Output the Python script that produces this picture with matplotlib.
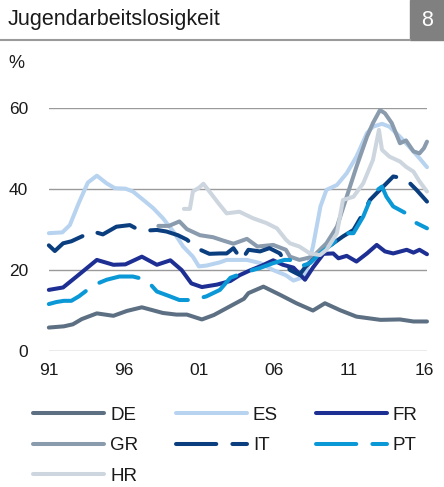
import matplotlib
matplotlib.use("Agg")
import matplotlib.pyplot as plt
from matplotlib.lines import Line2D
from matplotlib.patches import Rectangle

plt.rcParams['font.family'] = ['Liberation Sans', 'DejaVu Sans']

# ---- data (youth unemployment, %) ----
de_x = [1991.0, 1992.0, 1992.6, 1993.2, 1994.2, 1995.3, 1996.2, 1997.2, 1998.6, 1999.5, 2000.2, 2001.2,
        2002.0, 2003.0, 2004.0, 2004.3, 2005.3, 2006.4, 2007.5, 2008.6, 2009.4, 2010.4, 2011.5, 2013.1,
        2014.4, 2015.3, 2016.2]
de_y = [5.7, 6.0, 6.5, 7.8, 9.2, 8.6, 9.8, 10.7, 9.3, 8.9, 8.9, 7.7,
        8.8, 10.8, 12.8, 14.2, 15.8, 13.8, 11.7, 9.9, 11.7, 10.0, 8.4, 7.6,
        7.7, 7.2, 7.2]

es_x = [1991.0, 1991.9, 1992.4, 1993.0, 1993.6, 1994.2, 1994.85, 1995.4, 1996.1, 1996.6, 1997.3, 1997.95,
        1998.6, 1999.3, 1999.95, 2000.6, 2001.0, 2001.5, 2002.4, 2002.85, 2004.2, 2005.1, 2005.95, 2006.8,
        2007.3, 2007.85, 2008.2, 2008.6, 2009.1, 2009.5, 2010.2, 2010.85, 2011.5, 2012.2, 2012.6, 2013.2,
        2013.7, 2014.4, 2015.1, 2015.7, 2016.2]
es_y = [29.0, 29.2, 31.0, 36.5, 41.5, 43.2, 41.3, 40.1, 40.0, 39.3, 37.2, 35.2,
        32.7, 29.4, 25.7, 23.2, 20.8, 21.0, 21.8, 22.4, 22.4, 21.6, 19.9, 18.6,
        17.3, 18.0, 20.0, 25.7, 35.6, 39.7, 40.9, 43.8, 47.9, 53.7, 55.3, 56.0,
        55.3, 52.8, 50.0, 47.5, 45.3]

fr_x = [1991.0, 1991.95, 1992.85, 1994.2, 1995.3, 1996.1, 1997.2, 1998.2, 1999.1, 1999.85, 2000.5, 2001.2,
        2002.2, 2003.1, 2003.7, 2004.4, 2005.2, 2005.95, 2006.6, 2007.3, 2008.07, 2008.6, 2009.3, 2009.95,
        2010.3, 2010.85, 2011.5, 2012.2, 2012.85, 2013.4, 2013.95, 2014.85, 2015.3, 2015.7, 2016.2]
fr_y = [15.0, 15.6, 18.3, 22.4, 21.2, 21.3, 23.2, 21.2, 22.3, 19.9, 16.6, 15.7,
        16.3, 17.2, 18.6, 19.8, 21.0, 22.3, 21.2, 20.5, 17.5, 20.5, 23.9, 24.0,
        22.8, 23.4, 22.0, 24.0, 26.1, 24.5, 24.0, 24.9, 24.2, 24.9, 23.8]

gr_x = [1998.3, 1999.0, 1999.7, 2000.2, 2001.07, 2001.95, 2002.6, 2003.3, 2004.2, 2004.9, 2005.95, 2006.8,
        2007.07, 2007.7, 2008.6, 2009.5, 2010.2, 2010.85, 2011.5, 2012.2, 2012.6, 2013.07, 2013.4, 2013.85,
        2014.4, 2014.8, 2015.3, 2015.7, 2016.0, 2016.2]
gr_y = [30.8, 30.8, 31.9, 30.0, 28.5, 28.0, 27.2, 26.4, 27.6, 25.7, 26.1, 24.9,
        23.2, 22.4, 23.2, 26.5, 30.6, 38.0, 45.4, 52.8, 56.2, 59.4, 58.6, 56.2,
        51.2, 51.9, 49.2, 48.7, 50.0, 51.6]

it_x = [1991.0, 1991.4, 1991.95, 1992.5, 1993.2, 1993.95, 1994.6, 1995.5, 1996.4, 1996.8, 1997.3, 1998.2,
        1998.85, 1999.6, 2000.2, 2000.85, 2001.7, 2002.4, 2002.85, 2003.3, 2003.85, 2004.3, 2005.07, 2005.7,
        2006.4, 2007.07, 2007.7, 2008.1, 2009.07, 2009.95, 2010.6, 2011.3, 2011.95, 2012.4, 2012.85, 2013.5,
        2013.95, 2014.6, 2015.07, 2015.5, 2016.2]
it_y = [26.0, 24.6, 26.5, 27.0, 28.2, 29.4, 28.7, 30.6, 31.0, 30.2, 29.6, 29.8,
        29.4, 28.5, 27.4, 25.3, 23.9, 24.0, 24.0, 25.3, 22.4, 24.9, 24.5, 25.3,
        24.0, 19.9, 18.7, 20.7, 24.0, 26.5, 28.2, 29.8, 33.9, 37.2, 38.9, 41.3,
        43.0, 42.6, 41.3, 39.7, 36.8]

pt_x = [1991.0, 1991.5, 1992.0, 1992.5, 1993.0, 1994.0, 1994.85, 1995.7, 1996.6, 1997.5, 1998.2, 1999.07,
        1999.7, 2000.6, 2001.5, 2002.4, 2003.1, 2004.2, 2005.07, 2005.95, 2006.7, 2007.07, 2007.7, 2008.4,
        2009.07, 2009.95, 2010.6, 2011.3, 2011.95, 2012.6, 2013.2, 2013.5, 2013.95, 2014.4, 2014.8, 2015.5,
        2016.2]
pt_y = [11.5, 12.0, 12.3, 12.3, 13.4, 16.2, 17.5, 18.3, 18.3, 17.5, 14.6, 13.4,
        12.5, 12.5, 13.4, 15.0, 18.0, 19.5, 20.4, 21.6, 22.4, 22.4, 20.7, 21.6,
        24.0, 26.5, 29.0, 29.0, 33.1, 38.9, 40.5, 38.0, 35.6, 34.7, 33.9, 31.5,
        30.2]

hr_x = [2000.0, 2000.4, 2000.6, 2001.0, 2001.3, 2001.7, 2002.3, 2002.85, 2003.7, 2004.6, 2005.5, 2006.2,
        2006.8, 2007.07, 2007.7, 2008.4, 2009.07, 2009.5, 2010.2, 2010.6, 2011.3, 2011.95, 2012.6, 2013.0,
        2013.2, 2013.7, 2014.4, 2014.8, 2015.3, 2015.7, 2016.2]
hr_y = [35.0, 35.0, 39.3, 40.2, 41.2, 39.3, 36.4, 33.9, 34.3, 32.7, 31.5, 30.2,
        27.4, 26.5, 25.7, 24.0, 23.6, 24.9, 29.0, 37.2, 38.0, 41.3, 47.1, 54.5,
        49.6, 47.9, 46.7, 45.4, 44.2, 41.8, 39.3]

labels = ['DE', 'ES', 'FR', 'GR', 'IT', 'PT', 'HR']
xs = [de_x, es_x, fr_x, gr_x, it_x, pt_x, hr_x]
ys = [de_y, es_y, fr_y, gr_y, it_y, pt_y, hr_y]
colors = ['#5d7083', '#b8d3ef', '#1e2f94', '#8a9bae', '#0b3e7f', '#0b98d6', '#cdd6df']
dashed = [False, False, False, False, True, True, False]

xticks = [1991, 1996, 2001, 2006, 2011, 2016]
xticklabels = ['91', '96', '01', '06', '11', '16']
yticks = [0, 20, 40, 60]

fig = plt.figure(figsize=(4.44, 4.87), dpi=100)
ax = fig.add_axes([0.110, 0.280, 0.851, 0.499])

LW = 2.9
handles = {}
for lab, x, y, c, d in zip(labels, xs, ys, colors, dashed):
    ls = (0, (10, 4)) if d else '-'
    ln, = ax.plot(x, y, color=c, lw=LW, ls=ls, solid_capstyle='round',
                  dash_capstyle='round', solid_joinstyle='round', clip_on=False, label=lab)
    handles[lab] = ln

ax.set_xlim(1991, 2016.18)
ax.set_ylim(0, 60)
ax.set_xticks(xticks)
ax.set_xticklabels(xticklabels)
ax.set_yticks(yticks)
ax.tick_params(axis='both', length=0, labelsize=12.5, colors='#1a1a1a')
ax.tick_params(axis='y', pad=15)
ax.tick_params(axis='x', pad=9)
for s in ax.spines.values():
    s.set_visible(False)
ax.grid(axis='y', color='#9a9a9a', lw=1.0)
ax.set_axisbelow(True)

order = ['DE', 'GR', 'HR', 'ES', 'IT', 'FR', 'PT']
leg = fig.legend([handles[k] for k in order], order, ncol=3, loc='upper left',
                 bbox_to_anchor=(0.074, 0.165), frameon=False, fontsize=13.5,
                 handlelength=3.8, handletextpad=0.32, columnspacing=2.0,
                 labelspacing=0.72, borderaxespad=0, borderpad=0)
for t in leg.get_texts():
    t.set_color('#1a1a1a')

# header
fig.text(8 / 444, 1 - 19 / 487, 'Jugendarbeitslosigkeit', fontsize=15.5, va='center', ha='left',
         color='#1a1a1a')
fig.add_artist(Line2D([0, 410 / 444], [1 - 39.5 / 487, 1 - 39.5 / 487], color='#9a9a9a', lw=1.5,
                      transform=fig.transFigure))
fig.add_artist(Rectangle((410 / 444, 1 - 40 / 487), 34 / 444, 40 / 487, color='#808080',
                         transform=fig.transFigure))
fig.text(427 / 444, 1 - 20 / 487, '8', fontsize=15.5, color='white', ha='center', va='center')
fig.text(8 / 444, 1 - 63 / 487, '%', fontsize=13, color='#1a1a1a', ha='left', va='center')

fig.savefig('out.png', dpi=100)
